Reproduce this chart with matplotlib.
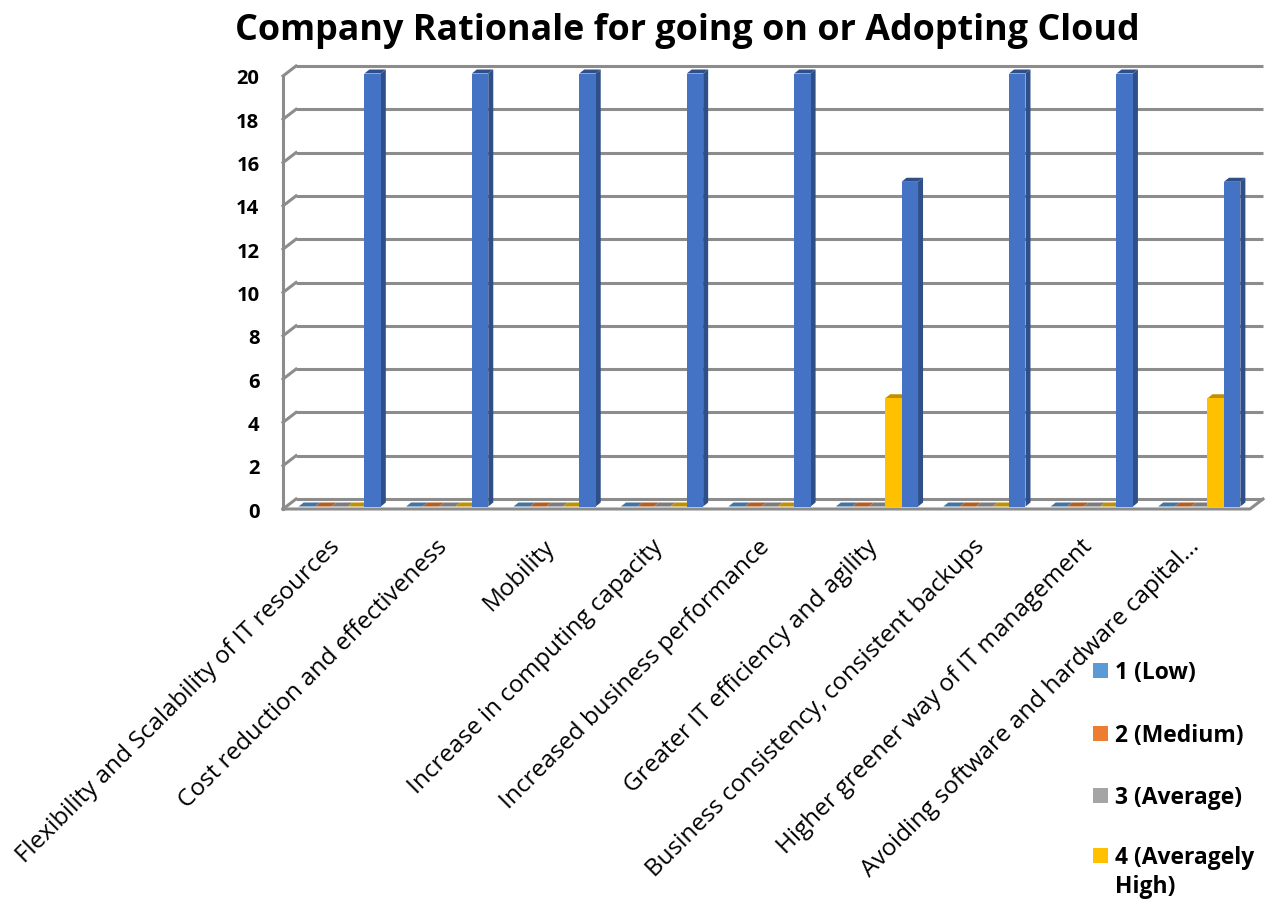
import matplotlib.pyplot as plt
from matplotlib.patches import Polygon, Rectangle
import numpy as np

plt.rcParams['font.family'] = ['Open Sans', 'DejaVu Sans']

# --- DATA ---
categories = [
    'Flexibility and Scalability of IT resources',
    'Cost reduction and effectiveness',
    'Mobility',
    'Increase in computing capacity',
    'Increased business performance',
    'Greater IT efficiency and agility',
    'Business consistency, consistent backups',
    'Higher greener way of IT management',
    'Avoiding software and hardware capital\u2026',
]
series_names = ['1 (Low)', '2 (Medium)', '3 (Average)', '4 (Averagely\nHigh)', '5 (High)']
low = [0, 0, 0, 0, 0, 0, 0, 0, 0]
medium = [0, 0, 0, 0, 0, 0, 0, 0, 0]
average = [0, 0, 0, 0, 0, 0, 0, 0, 0]
av_high = [0, 0, 0, 0, 0, 5, 0, 0, 5]
high = [20, 20, 20, 20, 20, 15, 20, 20, 15]
series = [low, medium, average, av_high, high]

front_cols = ['#5B9BD5', '#ED7D31', '#A5A5A5', '#FFC000', '#4472C4']
shade_cols = ['#44749F', '#B25E25', '#7C7C7C', '#BF9000', '#2F4F88']

W, H = 1269, 904
fig = plt.figure(figsize=(W / 100, H / 100), dpi=100)
# front plane of the plot area in pixels
left_px, right_px, bot_px, top_px = 283, 1250, 510, 77
ax = fig.add_axes([left_px / W, (H - bot_px) / H,
                   (right_px - left_px) / W, (bot_px - top_px) / H])
ncat = len(categories)
ax.set_xlim(0, ncat)
ax.set_ylim(0, 20)

ux = ncat / (right_px - left_px)   # data units per pixel
uy = 20 / (bot_px - top_px)

WX, WY = 13 * ux, 10 * uy      # wall depth
BX, BY = 3 * ux, 2.5 * uy      # bar plane shift
SX, SY = 5 * ux, 4 * uy        # bar depth

grid_col = '#8C8C8C'
# back wall gridlines + left wall diagonals
for v in range(0, 21, 2):
    ax.plot([WX, ncat + WX], [v + WY, v + WY], color=grid_col, lw=2.2,
            clip_on=False, zorder=1, solid_capstyle='butt')
    ax.plot([0, WX], [v, v + WY], color=grid_col, lw=2.2, clip_on=False, zorder=1)
ax.plot([0, 0], [0, 20], color=grid_col, lw=2.2, clip_on=False, zorder=1)
# floor
ax.plot([0, ncat, ncat + WX], [0, 0, WY], color=grid_col, lw=2.2,
        clip_on=False, zorder=1)

# bars
nser = len(series)
bw = 0.153
start = 0.5 - nser * bw / 2
for i in range(ncat):
    for s in range(nser):
        x0 = i + start + s * bw + BX
        h = series[s][i]
        ax.bar(x0, h, bw, bottom=BY, align='edge', color=front_cols[s],
               lw=0, zorder=3 + s * 3, clip_on=False)
        side = [(x0 + bw, BY), (x0 + bw, BY + h),
                (x0 + bw + SX, BY + h + SY), (x0 + bw + SX, BY + SY)]
        top = [(x0, BY + h), (x0 + bw, BY + h),
               (x0 + bw + SX, BY + h + SY), (x0 + SX, BY + h + SY)]
        ax.add_patch(Polygon(side, closed=True, fc=shade_cols[s], lw=0,
                             zorder=2 + s * 3, clip_on=False))
        ax.add_patch(Polygon(top, closed=True, fc=shade_cols[s], lw=0,
                             zorder=2 + s * 3, clip_on=False))

for sp in ax.spines.values():
    sp.set_visible(False)
ax.set_yticks(range(0, 21, 2))
ax.set_yticklabels([str(v) for v in range(0, 21, 2)], fontsize=14.5, fontweight='bold')
ax.tick_params(axis='y', length=0, pad=17)
ax.set_xticks(np.arange(ncat) + 0.5)
ax.set_xticklabels(categories, rotation=45, ha='right', va='center',
                   rotation_mode='anchor', fontsize=17.5)
ax.tick_params(axis='x', length=0, pad=24)

fig.text(687 / W, 1 - 31 / H, 'Company Rationale for going on or Adopting Cloud',
         ha='center', va='center', fontsize=25.8, fontweight='bold')

# legend (last series is cut off in the original)
leg_y = [672, 735, 797, 857]
for s in range(4):
    fig.patches.append(Rectangle((1093 / W, 1 - (leg_y[s] + 7) / H), 15 / W, 15 / H,
                                 transform=fig.transFigure, fc=front_cols[s], lw=0))
    fig.text(1115 / W, 1 - (leg_y[s] - 11) / H, series_names[s], ha='left', va='top',
             fontsize=16.5, fontweight='bold', linespacing=1.3)

fig.savefig('out.png', dpi=100)
